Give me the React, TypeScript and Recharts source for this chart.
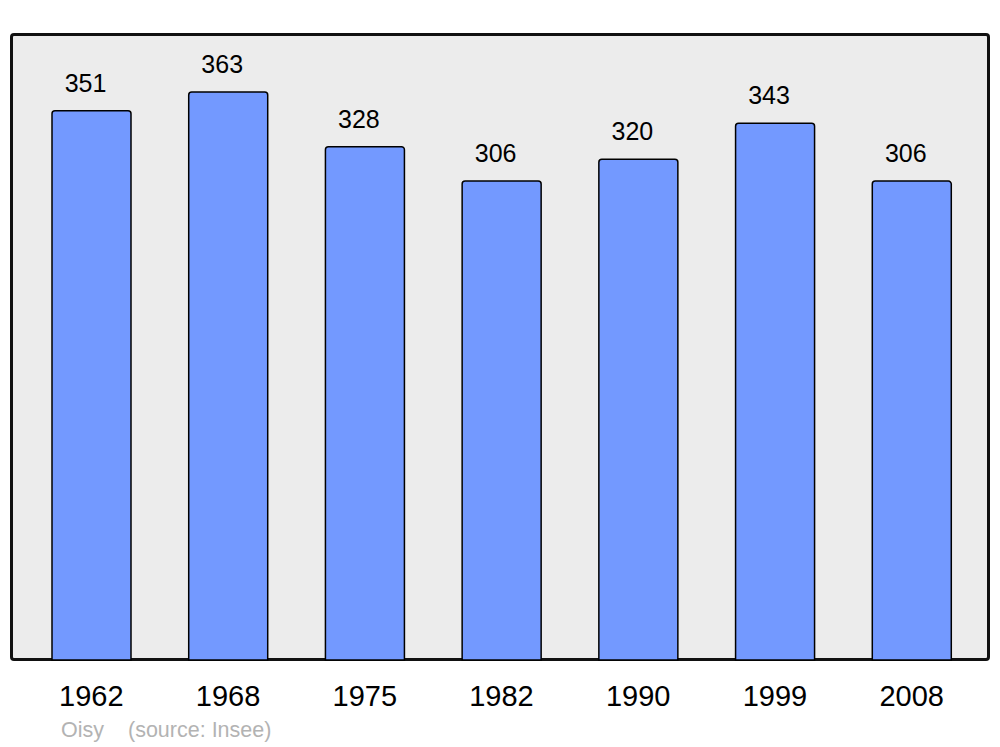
import React from 'react';
import { BarChart, Bar, XAxis, YAxis, LabelList } from 'recharts';

const years = ['1962', '1968', '1975', '1982', '1990', '1999', '2008'];
const population = [351, 363, 328, 306, 320, 343, 306];
const commune = 'Oisy';
const source = '(source: Insee)';

const data = years.map((year, i) => ({ year, value: population[i] }));

const FONT = '"Liberation Sans", Arial, sans-serif';

const TopLabel = (props: any) => {
    const { x, y, width, value } = props;
    return (
        <text
            x={x + width / 2 - 6}
            y={y - 19}
            textAnchor="middle"
            fontSize={25}
            fontFamily={FONT}
            fill="#000"
        >
            {value}
        </text>
    );
};

const footStyle: React.CSSProperties = {
    position: 'absolute',
    top: 720,
    fontSize: 21.5,
    lineHeight: '21.5px',
    fontFamily: FONT,
    color: '#b3b3b3',
    whiteSpace: 'nowrap',
};

const App: React.FC = () => {
    return (
        <div style={{ position: 'absolute', left: 0, top: 0, width: 1000, height: 747, background: '#fff' }}>
            <div
                style={{
                    position: 'absolute',
                    left: 10,
                    top: 33,
                    width: 980,
                    height: 628,
                    boxSizing: 'border-box',
                    background: '#ececec',
                    border: '3px solid #111',
                    borderRadius: 4,
                }}
            />
            <div style={{ position: 'absolute', left: 0, top: 0 }}>
                <BarChart
                    width={1000}
                    height={747}
                    data={data}
                    margin={{ top: 34, right: 20, bottom: 57, left: 23 }}
                    barCategoryGap={0}
                >
                    <YAxis hide domain={[0, 400]} />
                    <XAxis
                        dataKey="year"
                        height={30}
                        axisLine={false}
                        tickLine={false}
                        tickMargin={19}
                        tick={{ fontSize: 29, fill: '#000', fontFamily: FONT }}
                        interval={0}
                    />
                    <Bar
                        dataKey="value"
                        barSize={79}
                        fill="#7399ff"
                        stroke="#000"
                        strokeWidth={1.5}
                        radius={[3, 3, 0, 0]}
                        isAnimationActive={false}
                    >
                        <LabelList dataKey="value" content={<TopLabel />} />
                    </Bar>
                </BarChart>
            </div>
            <span style={{ ...footStyle, left: 61 }}>{commune}</span>
            <span style={{ ...footStyle, left: 128 }}>{source}</span>
        </div>
    );
};

export default App;
